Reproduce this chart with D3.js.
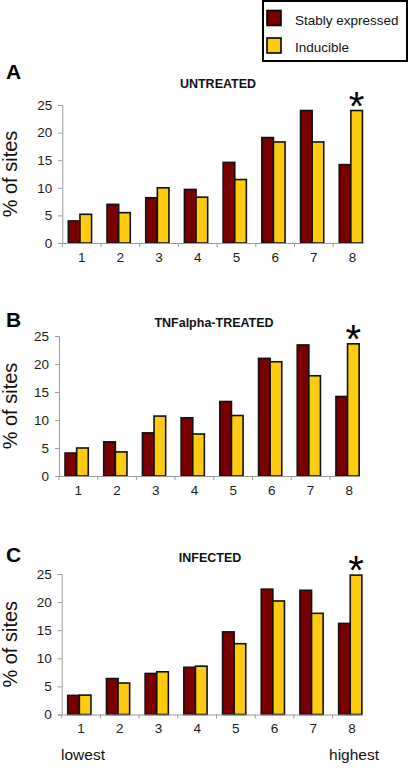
<!DOCTYPE html>
<html><head><meta charset="utf-8">
<script src="https://cdn.jsdelivr.net/npm/d3@7"></script>
<style>
html,body{margin:0;padding:0;background:#fff;}
svg{display:block;}
text{font-family:"Liberation Sans",Arial,sans-serif;}
</style></head>
<body>
<svg id="chart" width="408" height="770"></svg>
<script>
const categories = ["1","2","3","4","5","6","7","8"];
const seriesNames = ["Stably expressed","Inducible"];
const seriesColors = ["#7a0000","#fecb10"];
const yTicks = [0,5,10,15,20,25];
const panelLetters = ["A","B","C"];
const panelTitles = ["UNTREATED","TNFalpha-TREATED","INFECTED"];
const untreatedStable = [4.0,7.0,8.2,9.7,14.6,19.1,24.0,14.2];
const untreatedInducible = [5.2,5.5,10.0,8.3,11.5,18.3,18.3,24.0];
const tnfStable = [4.1,6.1,7.7,10.4,13.3,21.0,23.4,14.2];
const tnfInducible = [5.0,4.3,10.7,7.5,10.8,20.4,17.9,23.6];
const infectedStable = [3.4,6.4,7.3,8.4,14.7,22.3,22.1,16.2];
const infectedInducible = [3.45,5.6,7.6,8.6,12.6,20.2,18.0,24.8];
const panelData = [
  [untreatedStable, untreatedInducible],
  [tnfStable, tnfInducible],
  [infectedStable, infectedInducible]
];
const starLabel = "*";

const svg = d3.select("#chart");

const layouts = [
  {left:62.3, top:105, bottom:243, letterY:79, titleX:218, titleY:88},
  {left:59,   top:336, bottom:476, letterY:327, titleX:214, titleY:327},
  {left:61.7, top:574, bottom:714.5, letterY:562, titleX:210, titleY:561.5}
];

layouts.forEach((L, pi) => {
  const g = svg.append("g");
  const step = 38.7;
  const x0 = d3.scaleBand().domain(categories)
    .range([L.left, L.left + step*categories.length])
    .paddingInner(0.4).paddingOuter(0.2);
  const x1 = d3.scaleBand().domain(seriesNames).range([0, x0.bandwidth()]);
  const y = d3.scaleLinear().domain([0,25]).range([L.bottom, L.top]);

  seriesNames.forEach((s, si) => {
    g.selectAll(null).data(panelData[pi][si]).enter().append("rect")
      .attr("x", (d,i) => x0(categories[i]) + x1(s) - 1.7)
      .attr("y", d => y(d))
      .attr("width", x1.bandwidth())
      .attr("height", d => y(0) - y(d))
      .attr("fill", seriesColors[si])
      .attr("stroke", "#111")
      .attr("stroke-width", 1.6);
  });

  const ya = d3.axisLeft(y).tickValues(yTicks).tickSize(4).tickPadding(6);
  const yg = g.append("g").attr("transform", `translate(${L.left},0)`).call(ya);
  yg.select(".domain").attr("stroke", "#9a9a9a");
  yg.selectAll(".tick line").attr("stroke", "#9a9a9a");
  yg.selectAll("text").attr("font-size", 13.5).attr("fill", "#1a1a1a")
    .attr("font-family", '"Liberation Sans",Arial,sans-serif');

  const xa = d3.axisBottom(x0).tickSize(0).tickPadding(9);
  const xg = g.append("g").attr("transform", `translate(0,${L.bottom})`).call(xa);
  const lastEnd = x0(categories[categories.length-1]) + x0.bandwidth() - 1.7 + 0.8;
  xg.select(".domain").attr("d", `M${L.left},0.5H${lastEnd}`).attr("stroke", "#9a9a9a");
  xg.selectAll("text").attr("font-size", 13.5).attr("fill", "#1a1a1a")
    .attr("font-family", '"Liberation Sans",Arial,sans-serif');
  const bounds = categories.map((c,i) => L.left + i*x0.step());
  xg.selectAll(".bt").data(bounds).enter().append("line")
    .attr("x1", d => d).attr("x2", d => d).attr("y1", 0).attr("y2", 4)
    .attr("stroke", "#9a9a9a");

  g.append("text")
    .attr("transform", `translate(17,${(L.top+L.bottom)/2}) rotate(-90)`)
    .attr("text-anchor", "middle")
    .attr("font-family", '"Open Sans",sans-serif')
    .attr("font-size", 20).attr("fill", "#111")
    .text("% of sites");

  g.append("text").attr("x", 6).attr("y", L.letterY)
    .attr("font-size", 21).attr("font-weight", "bold").attr("fill", "#000")
    .text(panelLetters[pi]);

  g.append("text").attr("x", L.titleX).attr("y", L.titleY)
    .attr("text-anchor", "middle")
    .attr("font-size", 12.5).attr("font-weight", "bold").attr("fill", "#111")
    .text(panelTitles[pi]);

  const lastIdx = categories.length - 1;
  const sx = x0(categories[lastIdx]) + x1(seriesNames[1]) - 1.7 + x1.bandwidth()/2;
  g.append("text").attr("x", sx).attr("y", y(panelData[pi][1][lastIdx]) + 9)
    .attr("text-anchor", "middle")
    .attr("font-size", 40).attr("fill", "#000")
    .text(starLabel);
});

const lg = svg.append("g");
lg.append("rect").attr("x", 263).attr("y", 1).attr("width", 144).attr("height", 60)
  .attr("fill", "#fff").attr("stroke", "#000").attr("stroke-width", 2);
seriesNames.forEach((s, i) => {
  lg.append("rect").attr("x", 267).attr("y", 10.5 + i*27.5).attr("width", 14).attr("height", 15)
    .attr("fill", seriesColors[i]).attr("stroke", "#000").attr("stroke-width", 1.6);
  lg.append("text").attr("x", 295).attr("y", 24.5 + i*27.5)
    .attr("font-size", 13.5).attr("fill", "#111").text(s);
});

svg.append("text").attr("x", 61).attr("y", 760)
  .attr("font-family", '"Open Sans",sans-serif').attr("font-size", 15.5).attr("fill", "#111")
  .text("lowest");
svg.append("text").attr("x", 379).attr("y", 760).attr("text-anchor", "end")
  .attr("font-family", '"Open Sans",sans-serif').attr("font-size", 15.5).attr("fill", "#111")
  .text("highest");
</script>
</body></html>
